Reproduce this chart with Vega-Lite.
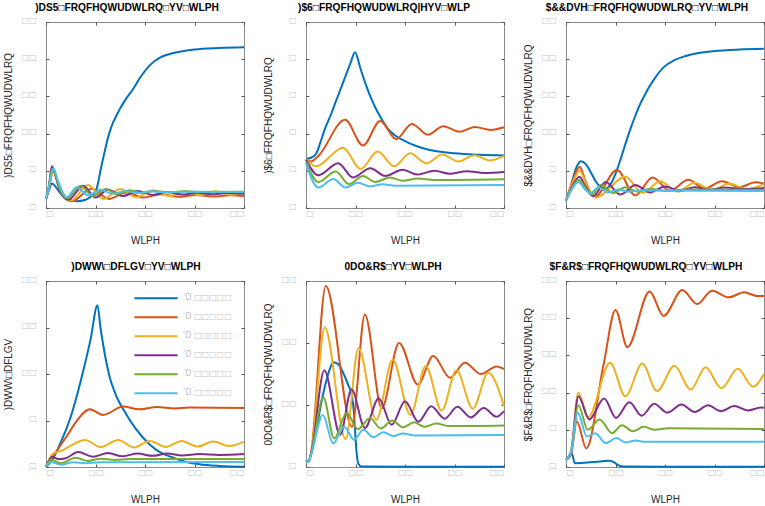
{
  "$schema": "https://vega.github.io/schema/vega-lite/v6.json",
  "padding": {"left": 2, "top": 2, "right": 0, "bottom": 6},
  "background": "white",
  "config": {
    "font": "Liberation Sans",
    "view": {"stroke": "#8a8a8a", "strokeWidth": 1},
    "axis": {"domain": false, "grid": false, "ticks": true, "tickSize": -3, "tickColor": "#555555", "labelColor": "#c4c4c4", "labelFont": "DejaVu Sans", "labelFontSize": 8, "labelPadding": 4, "titleFont": "Liberation Sans", "titleFontSize": 10, "titleFontWeight": "normal", "titleColor": "#262626"},
    "axisX": {"titleY": 27},
    "axisY": {"titleX": -33, "labelPadding": 13, "labelOffset": -2},
    "title": {"font": "Liberation Sans", "fontSize": 10.2, "fontWeight": "bold", "color": "#000000", "anchor": "middle", "frame": "group", "baseline": "alphabetic", "offset": 3},
    "line": {"strokeWidth": 2, "interpolate": "monotone"}
  },
  "data": {"values": [
    {"p":1,"s":1,"t":0,"v":1.2},{"p":1,"s":1,"t":0.5,"v":2.2},{"p":1,"s":1,"t":1.2,"v":3.3},{"p":1,"s":1,"t":2,"v":2.8},{"p":1,"s":1,"t":3,"v":1.9},{"p":1,"s":1,"t":4.5,"v":1.2},{"p":1,"s":1,"t":6.2,"v":0.9},{"p":1,"s":1,"t":8,"v":1.1},{"p":1,"s":1,"t":9,"v":1.5},{"p":1,"s":1,"t":10,"v":2.2},{"p":1,"s":1,"t":10.5,"v":3.3},{"p":1,"s":1,"t":11,"v":5},{"p":1,"s":1,"t":12,"v":8},{"p":1,"s":1,"t":12.5,"v":9.4},{"p":1,"s":1,"t":13,"v":10.5},{"p":1,"s":1,"t":13.5,"v":11.4},{"p":1,"s":1,"t":14,"v":12.1},{"p":1,"s":1,"t":15,"v":13.4},{"p":1,"s":1,"t":16,"v":14.5},{"p":1,"s":1,"t":17.6,"v":16},{"p":1,"s":1,"t":19,"v":17.5},{"p":1,"s":1,"t":21,"v":19.2},{"p":1,"s":1,"t":23,"v":20.2},{"p":1,"s":1,"t":25,"v":20.7},{"p":1,"s":1,"t":27,"v":21},{"p":1,"s":1,"t":30,"v":21.3},{"p":1,"s":1,"t":35,"v":21.5},{"p":1,"s":1,"t":40,"v":21.6},
    {"p":1,"s":2,"t":0,"v":1.2},{"p":1,"s":2,"t":0.5,"v":2.5},{"p":1,"s":2,"t":1.5,"v":4.9},{"p":1,"s":2,"t":2.5,"v":3},{"p":1,"s":2,"t":3.5,"v":1.6},{"p":1,"s":2,"t":5.2,"v":0.9},{"p":1,"s":2,"t":9.2,"v":2.6},{"p":1,"s":2,"t":12.7,"v":1.2},{"p":1,"s":2,"t":16.2,"v":2.1},{"p":1,"s":2,"t":19.7,"v":1.4},{"p":1,"s":2,"t":23.2,"v":1.85},{"p":1,"s":2,"t":26.7,"v":1.5},{"p":1,"s":2,"t":30.2,"v":1.75},{"p":1,"s":2,"t":33.7,"v":1.55},{"p":1,"s":2,"t":37.2,"v":1.7},{"p":1,"s":2,"t":40,"v":1.6},
    {"p":1,"s":3,"t":0,"v":1.2},{"p":1,"s":3,"t":0.5,"v":2.4},{"p":1,"s":3,"t":1.5,"v":5},{"p":1,"s":3,"t":2.5,"v":3.2},{"p":1,"s":3,"t":3.5,"v":1.7},{"p":1,"s":3,"t":5,"v":1},{"p":1,"s":3,"t":8.5,"v":3.1},{"p":1,"s":3,"t":11.6,"v":1.2},{"p":1,"s":3,"t":15,"v":2.55},{"p":1,"s":3,"t":18.3,"v":1.45},{"p":1,"s":3,"t":21.6,"v":2.4},{"p":1,"s":3,"t":25,"v":1.6},{"p":1,"s":3,"t":28,"v":2.3},{"p":1,"s":3,"t":31.2,"v":1.7},{"p":1,"s":3,"t":34.3,"v":2.25},{"p":1,"s":3,"t":37.5,"v":1.75},{"p":1,"s":3,"t":40,"v":2.15},
    {"p":1,"s":4,"t":0,"v":1.2},{"p":1,"s":4,"t":0.5,"v":2.6},{"p":1,"s":4,"t":1.2,"v":5.6},{"p":1,"s":4,"t":2,"v":4.2},{"p":1,"s":4,"t":3,"v":2},{"p":1,"s":4,"t":4.5,"v":1.1},{"p":1,"s":4,"t":7.5,"v":3},{"p":1,"s":4,"t":10,"v":1.4},{"p":1,"s":4,"t":12.5,"v":2.5},{"p":1,"s":4,"t":15.5,"v":1.6},{"p":1,"s":4,"t":18.5,"v":2.3},{"p":1,"s":4,"t":21.5,"v":1.75},{"p":1,"s":4,"t":24.5,"v":2.15},{"p":1,"s":4,"t":27.5,"v":1.8},{"p":1,"s":4,"t":30.5,"v":2.05},{"p":1,"s":4,"t":33.5,"v":1.85},{"p":1,"s":4,"t":36.5,"v":2},{"p":1,"s":4,"t":40,"v":1.9},
    {"p":1,"s":5,"t":0,"v":1.2},{"p":1,"s":5,"t":0.5,"v":2.6},{"p":1,"s":5,"t":1.3,"v":5.3},{"p":1,"s":5,"t":2,"v":4.3},{"p":1,"s":5,"t":3,"v":2.2},{"p":1,"s":5,"t":4.3,"v":1.3},{"p":1,"s":5,"t":7,"v":3},{"p":1,"s":5,"t":9.5,"v":1.6},{"p":1,"s":5,"t":12,"v":2.55},{"p":1,"s":5,"t":14.5,"v":1.85},{"p":1,"s":5,"t":17,"v":2.4},{"p":1,"s":5,"t":19.5,"v":2},{"p":1,"s":5,"t":22,"v":2.3},{"p":1,"s":5,"t":25,"v":2.1},{"p":1,"s":5,"t":28,"v":2.25},{"p":1,"s":5,"t":32,"v":2.15},{"p":1,"s":5,"t":40,"v":2.2},
    {"p":1,"s":6,"t":0,"v":1.2},{"p":1,"s":6,"t":0.5,"v":2.6},{"p":1,"s":6,"t":1.5,"v":5.3},{"p":1,"s":6,"t":2.5,"v":3.5},{"p":1,"s":6,"t":4.2,"v":1.45},{"p":1,"s":6,"t":6.2,"v":2.8},{"p":1,"s":6,"t":8.5,"v":1.7},{"p":1,"s":6,"t":11,"v":2.45},{"p":1,"s":6,"t":13.5,"v":1.9},{"p":1,"s":6,"t":16,"v":2.3},{"p":1,"s":6,"t":18.5,"v":2},{"p":1,"s":6,"t":21,"v":2.25},{"p":1,"s":6,"t":24,"v":2.1},{"p":1,"s":6,"t":28,"v":2.2},{"p":1,"s":6,"t":40,"v":2.15},

    {"p":2,"s":1,"t":0,"v":1.32},{"p":2,"s":1,"t":1,"v":1.35},{"p":2,"s":1,"t":2,"v":1.45},{"p":2,"s":1,"t":3,"v":1.8},{"p":2,"s":1,"t":3.8,"v":2.12},{"p":2,"s":1,"t":5,"v":2.5},{"p":2,"s":1,"t":6,"v":2.85},{"p":2,"s":1,"t":7,"v":3.2},{"p":2,"s":1,"t":8,"v":3.55},{"p":2,"s":1,"t":9,"v":3.9},{"p":2,"s":1,"t":9.9,"v":4.19},{"p":2,"s":1,"t":11,"v":3.75},{"p":2,"s":1,"t":12,"v":3.35},{"p":2,"s":1,"t":13,"v":3},{"p":2,"s":1,"t":14,"v":2.7},{"p":2,"s":1,"t":15,"v":2.45},{"p":2,"s":1,"t":16.6,"v":2.12},{"p":2,"s":1,"t":18,"v":1.95},{"p":2,"s":1,"t":20,"v":1.8},{"p":2,"s":1,"t":22,"v":1.68},{"p":2,"s":1,"t":25,"v":1.56},{"p":2,"s":1,"t":30,"v":1.47},{"p":2,"s":1,"t":35,"v":1.43},{"p":2,"s":1,"t":40,"v":1.41},
    {"p":2,"s":2,"t":0,"v":1.3},{"p":2,"s":2,"t":1,"v":1.25},{"p":2,"s":2,"t":2.5,"v":1.4},{"p":2,"s":2,"t":7.9,"v":2.37},{"p":2,"s":2,"t":11.5,"v":1.68},{"p":2,"s":2,"t":15,"v":2.34},{"p":2,"s":2,"t":18.2,"v":1.85},{"p":2,"s":2,"t":21.4,"v":2.26},{"p":2,"s":2,"t":24.6,"v":1.97},{"p":2,"s":2,"t":27.7,"v":2.2},{"p":2,"s":2,"t":31,"v":2.05},{"p":2,"s":2,"t":34.1,"v":2.18},{"p":2,"s":2,"t":37.3,"v":2.1},{"p":2,"s":2,"t":40,"v":2.17},
    {"p":2,"s":3,"t":0,"v":1.32},{"p":2,"s":3,"t":2,"v":1.12},{"p":2,"s":3,"t":7.5,"v":1.62},{"p":2,"s":3,"t":11,"v":1.05},{"p":2,"s":3,"t":14.5,"v":1.52},{"p":2,"s":3,"t":17.8,"v":1.12},{"p":2,"s":3,"t":21,"v":1.47},{"p":2,"s":3,"t":24.3,"v":1.2},{"p":2,"s":3,"t":27.5,"v":1.44},{"p":2,"s":3,"t":30.8,"v":1.25},{"p":2,"s":3,"t":34,"v":1.42},{"p":2,"s":3,"t":37.2,"v":1.28},{"p":2,"s":3,"t":40,"v":1.4},
    {"p":2,"s":4,"t":0,"v":1.3},{"p":2,"s":4,"t":2.5,"v":0.88},{"p":2,"s":4,"t":6.5,"v":1.2},{"p":2,"s":4,"t":9.5,"v":0.82},{"p":2,"s":4,"t":13,"v":1.07},{"p":2,"s":4,"t":16,"v":0.86},{"p":2,"s":4,"t":19.5,"v":1.03},{"p":2,"s":4,"t":22.5,"v":0.9},{"p":2,"s":4,"t":26,"v":1},{"p":2,"s":4,"t":29,"v":0.92},{"p":2,"s":4,"t":32.5,"v":0.99},{"p":2,"s":4,"t":36,"v":0.94},{"p":2,"s":4,"t":40,"v":0.97},
    {"p":2,"s":5,"t":0,"v":1.25},{"p":2,"s":5,"t":2.5,"v":0.7},{"p":2,"s":5,"t":6,"v":0.98},{"p":2,"s":5,"t":8.7,"v":0.64},{"p":2,"s":5,"t":11.5,"v":0.86},{"p":2,"s":5,"t":14,"v":0.7},{"p":2,"s":5,"t":17,"v":0.82},{"p":2,"s":5,"t":19.5,"v":0.73},{"p":2,"s":5,"t":22.5,"v":0.79},{"p":2,"s":5,"t":26,"v":0.75},{"p":2,"s":5,"t":40,"v":0.77},
    {"p":2,"s":6,"t":0,"v":1.2},{"p":2,"s":6,"t":2.5,"v":0.55},{"p":2,"s":6,"t":5.5,"v":0.78},{"p":2,"s":6,"t":8,"v":0.55},{"p":2,"s":6,"t":10.5,"v":0.68},{"p":2,"s":6,"t":13,"v":0.58},{"p":2,"s":6,"t":15.5,"v":0.64},{"p":2,"s":6,"t":18,"v":0.6},{"p":2,"s":6,"t":40,"v":0.62},

    {"p":3,"s":1,"t":0,"v":1},{"p":3,"s":1,"t":1,"v":3},{"p":3,"s":1,"t":2,"v":5.3},{"p":3,"s":1,"t":3,"v":6.3},{"p":3,"s":1,"t":4,"v":5.9},{"p":3,"s":1,"t":5,"v":4.8},{"p":3,"s":1,"t":6,"v":3.6},{"p":3,"s":1,"t":7,"v":2.8},{"p":3,"s":1,"t":8,"v":2.6},{"p":3,"s":1,"t":9,"v":3.2},{"p":3,"s":1,"t":10,"v":4.6},{"p":3,"s":1,"t":11,"v":6.5},{"p":3,"s":1,"t":12,"v":8.6},{"p":3,"s":1,"t":13,"v":10.6},{"p":3,"s":1,"t":14,"v":12.4},{"p":3,"s":1,"t":15,"v":14},{"p":3,"s":1,"t":16,"v":15.3},{"p":3,"s":1,"t":17,"v":16.5},{"p":3,"s":1,"t":18,"v":17.5},{"p":3,"s":1,"t":19.7,"v":18.9},{"p":3,"s":1,"t":22,"v":19.9},{"p":3,"s":1,"t":24,"v":20.4},{"p":3,"s":1,"t":26.5,"v":20.8},{"p":3,"s":1,"t":30,"v":21.1},{"p":3,"s":1,"t":35,"v":21.3},{"p":3,"s":1,"t":40,"v":21.4},
    {"p":3,"s":2,"t":0,"v":1},{"p":3,"s":2,"t":1,"v":3},{"p":3,"s":2,"t":2.8,"v":5.5},{"p":3,"s":2,"t":4,"v":3.5},{"p":3,"s":2,"t":5.8,"v":1.5},{"p":3,"s":2,"t":10.3,"v":5.1},{"p":3,"s":2,"t":14,"v":1.7},{"p":3,"s":2,"t":17.5,"v":4.1},{"p":3,"s":2,"t":21,"v":2.3},{"p":3,"s":2,"t":24.7,"v":3.8},{"p":3,"s":2,"t":28,"v":2.6},{"p":3,"s":2,"t":31.5,"v":3.6},{"p":3,"s":2,"t":35,"v":2.8},{"p":3,"s":2,"t":38.3,"v":3.45},{"p":3,"s":2,"t":40,"v":3.3},
    {"p":3,"s":3,"t":0,"v":1},{"p":3,"s":3,"t":1,"v":2.8},{"p":3,"s":3,"t":2.8,"v":5},{"p":3,"s":3,"t":4.2,"v":3},{"p":3,"s":3,"t":6,"v":1.4},{"p":3,"s":3,"t":12,"v":4.2},{"p":3,"s":3,"t":15.5,"v":2},{"p":3,"s":3,"t":19,"v":3.6},{"p":3,"s":3,"t":22.5,"v":2.2},{"p":3,"s":3,"t":26,"v":3.4},{"p":3,"s":3,"t":29.5,"v":2.4},{"p":3,"s":3,"t":33,"v":3.3},{"p":3,"s":3,"t":36.5,"v":2.5},{"p":3,"s":3,"t":40,"v":3.2},
    {"p":3,"s":4,"t":0,"v":1},{"p":3,"s":4,"t":1,"v":2.5},{"p":3,"s":4,"t":2.7,"v":4.2},{"p":3,"s":4,"t":4,"v":2.8},{"p":3,"s":4,"t":5.5,"v":1.6},{"p":3,"s":4,"t":8,"v":3.5},{"p":3,"s":4,"t":11,"v":1.8},{"p":3,"s":4,"t":14,"v":3.1},{"p":3,"s":4,"t":17,"v":2.1},{"p":3,"s":4,"t":20,"v":2.9},{"p":3,"s":4,"t":23,"v":2.3},{"p":3,"s":4,"t":26,"v":2.8},{"p":3,"s":4,"t":29,"v":2.45},{"p":3,"s":4,"t":32,"v":2.75},{"p":3,"s":4,"t":36,"v":2.55},{"p":3,"s":4,"t":40,"v":2.7},
    {"p":3,"s":5,"t":0,"v":1},{"p":3,"s":5,"t":1,"v":2.4},{"p":3,"s":5,"t":2.6,"v":3.8},{"p":3,"s":5,"t":4,"v":2.6},{"p":3,"s":5,"t":5.2,"v":1.8},{"p":3,"s":5,"t":7,"v":3.1},{"p":3,"s":5,"t":9.5,"v":2},{"p":3,"s":5,"t":12,"v":2.8},{"p":3,"s":5,"t":14.5,"v":2.2},{"p":3,"s":5,"t":17,"v":2.6},{"p":3,"s":5,"t":20,"v":2.3},{"p":3,"s":5,"t":24,"v":2.5},{"p":3,"s":5,"t":40,"v":2.45},
    {"p":3,"s":6,"t":0,"v":1},{"p":3,"s":6,"t":1,"v":2.3},{"p":3,"s":6,"t":2.5,"v":3.5},{"p":3,"s":6,"t":4,"v":2.4},{"p":3,"s":6,"t":5,"v":2},{"p":3,"s":6,"t":6.5,"v":2.8},{"p":3,"s":6,"t":8.5,"v":2.1},{"p":3,"s":6,"t":10.5,"v":2.5},{"p":3,"s":6,"t":12.5,"v":2.2},{"p":3,"s":6,"t":15,"v":2.35},{"p":3,"s":6,"t":40,"v":2.3},

    {"p":4,"s":1,"t":0,"v":0},{"p":4,"s":1,"t":1,"v":0.6},{"p":4,"s":1,"t":2,"v":1.5},{"p":4,"s":1,"t":3,"v":2.7},{"p":4,"s":1,"t":4.2,"v":4.2},{"p":4,"s":1,"t":5,"v":5.4},{"p":4,"s":1,"t":6,"v":7.2},{"p":4,"s":1,"t":7.5,"v":10.3},{"p":4,"s":1,"t":9,"v":13.7},{"p":4,"s":1,"t":10.4,"v":17.4},{"p":4,"s":1,"t":11,"v":15},{"p":4,"s":1,"t":12,"v":11.8},{"p":4,"s":1,"t":12.9,"v":9.6},{"p":4,"s":1,"t":14,"v":7.9},{"p":4,"s":1,"t":16.3,"v":5.6},{"p":4,"s":1,"t":18,"v":4.2},{"p":4,"s":1,"t":21,"v":2.4},{"p":4,"s":1,"t":23,"v":1.6},{"p":4,"s":1,"t":25.7,"v":1},{"p":4,"s":1,"t":28,"v":0.6},{"p":4,"s":1,"t":31,"v":0.3},{"p":4,"s":1,"t":35,"v":0.12},{"p":4,"s":1,"t":40,"v":0.04},
    {"p":4,"s":2,"t":0,"v":0},{"p":4,"s":2,"t":1,"v":0.8},{"p":4,"s":2,"t":2,"v":1.6},{"p":4,"s":2,"t":3,"v":2.4},{"p":4,"s":2,"t":4.2,"v":3.3},{"p":4,"s":2,"t":6,"v":4.8},{"p":4,"s":2,"t":8.9,"v":6.2},{"p":4,"s":2,"t":11.5,"v":5.6},{"p":4,"s":2,"t":15.6,"v":6.5},{"p":4,"s":2,"t":18.8,"v":6.2},{"p":4,"s":2,"t":22.4,"v":6.45},{"p":4,"s":2,"t":26,"v":6.3},{"p":4,"s":2,"t":29,"v":6.4},{"p":4,"s":2,"t":40,"v":6.35},
    {"p":4,"s":3,"t":0,"v":0},{"p":4,"s":3,"t":1.5,"v":1.5},{"p":4,"s":3,"t":3,"v":1.7},{"p":4,"s":3,"t":5,"v":2.3},{"p":4,"s":3,"t":7.9,"v":2.9},{"p":4,"s":3,"t":11,"v":2.15},{"p":4,"s":3,"t":14.6,"v":2.9},{"p":4,"s":3,"t":17.8,"v":2.1},{"p":4,"s":3,"t":21,"v":2.8},{"p":4,"s":3,"t":24.2,"v":2.15},{"p":4,"s":3,"t":27.4,"v":2.8},{"p":4,"s":3,"t":30.6,"v":2.2},{"p":4,"s":3,"t":33.8,"v":2.75},{"p":4,"s":3,"t":37,"v":2.25},{"p":4,"s":3,"t":40,"v":2.7},
    {"p":4,"s":4,"t":0,"v":0},{"p":4,"s":4,"t":1.2,"v":1.1},{"p":4,"s":4,"t":2.5,"v":0.85},{"p":4,"s":4,"t":4,"v":0.95},{"p":4,"s":4,"t":6.5,"v":1.6},{"p":4,"s":4,"t":9.5,"v":1.1},{"p":4,"s":4,"t":12.5,"v":1.5},{"p":4,"s":4,"t":15.5,"v":1.15},{"p":4,"s":4,"t":18.5,"v":1.45},{"p":4,"s":4,"t":21.5,"v":1.2},{"p":4,"s":4,"t":24.5,"v":1.45},{"p":4,"s":4,"t":27.5,"v":1.25},{"p":4,"s":4,"t":31,"v":1.4},{"p":4,"s":4,"t":35,"v":1.3},{"p":4,"s":4,"t":40,"v":1.4},
    {"p":4,"s":5,"t":0,"v":0},{"p":4,"s":5,"t":1,"v":0.8},{"p":4,"s":5,"t":3,"v":0.4},{"p":4,"s":5,"t":6,"v":1},{"p":4,"s":5,"t":8.5,"v":0.65},{"p":4,"s":5,"t":11,"v":0.9},{"p":4,"s":5,"t":14,"v":0.75},{"p":4,"s":5,"t":17,"v":0.85},{"p":4,"s":5,"t":40,"v":0.85},
    {"p":4,"s":6,"t":0,"v":0},{"p":4,"s":6,"t":1,"v":0.55},{"p":4,"s":6,"t":3,"v":0.25},{"p":4,"s":6,"t":5.5,"v":0.5},{"p":4,"s":6,"t":8,"v":0.4},{"p":4,"s":6,"t":11,"v":0.5},{"p":4,"s":6,"t":40,"v":0.55},

    {"p":5,"s":1,"t":0,"v":1.1},{"p":5,"s":1,"t":0.5,"v":0.9},{"p":5,"s":1,"t":1,"v":2},{"p":5,"s":1,"t":2,"v":5.5},{"p":5,"s":1,"t":3,"v":10},{"p":5,"s":1,"t":4,"v":13.6},{"p":5,"s":1,"t":5,"v":16.2},{"p":5,"s":1,"t":5.5,"v":16.9},{"p":5,"s":1,"t":6.5,"v":16.6},{"p":5,"s":1,"t":7.5,"v":15.2},{"p":5,"s":1,"t":8.5,"v":13.3},{"p":5,"s":1,"t":9.2,"v":11.7},{"p":5,"s":1,"t":9.6,"v":9.5},{"p":5,"s":1,"t":9.9,"v":6},{"p":5,"s":1,"t":10.2,"v":2.5},{"p":5,"s":1,"t":10.6,"v":0.5},{"p":5,"s":1,"t":11.2,"v":0.1},{"p":5,"s":1,"t":20,"v":0.05},{"p":5,"s":1,"t":40,"v":0.05},
    {"p":5,"s":2,"t":0,"v":1.1},{"p":5,"s":2,"t":0.5,"v":0.9},{"p":5,"s":2,"t":1,"v":2.2},{"p":5,"s":2,"t":4,"v":29.2},{"p":5,"s":2,"t":9.3,"v":6.5},{"p":5,"s":2,"t":11.9,"v":24.6},{"p":5,"s":2,"t":15.3,"v":9.5},{"p":5,"s":2,"t":18.8,"v":20},{"p":5,"s":2,"t":22.6,"v":13.3},{"p":5,"s":2,"t":25.7,"v":17.9},{"p":5,"s":2,"t":29.1,"v":14.4},{"p":5,"s":2,"t":32.1,"v":16.8},{"p":5,"s":2,"t":35.3,"v":15},{"p":5,"s":2,"t":38.5,"v":16.2},{"p":5,"s":2,"t":40,"v":15.8},
    {"p":5,"s":3,"t":0,"v":1.1},{"p":5,"s":3,"t":0.5,"v":0.9},{"p":5,"s":3,"t":1,"v":2.1},{"p":5,"s":3,"t":3.8,"v":22.5},{"p":5,"s":3,"t":8,"v":4.5},{"p":5,"s":3,"t":10.6,"v":19.2},{"p":5,"s":3,"t":14.2,"v":7.6},{"p":5,"s":3,"t":17.5,"v":17.3},{"p":5,"s":3,"t":21.1,"v":8.4},{"p":5,"s":3,"t":24.2,"v":16.3},{"p":5,"s":3,"t":27.4,"v":9.1},{"p":5,"s":3,"t":30.4,"v":15.6},{"p":5,"s":3,"t":33.7,"v":9.4},{"p":5,"s":3,"t":36.8,"v":15.2},{"p":5,"s":3,"t":40,"v":9.8},
    {"p":5,"s":4,"t":0,"v":1.1},{"p":5,"s":4,"t":0.5,"v":0.9},{"p":5,"s":4,"t":1,"v":2},{"p":5,"s":4,"t":3.7,"v":15.6},{"p":5,"s":4,"t":6.9,"v":5.2},{"p":5,"s":4,"t":9.2,"v":12.5},{"p":5,"s":4,"t":11.9,"v":6.3},{"p":5,"s":4,"t":14.7,"v":11.1},{"p":5,"s":4,"t":17.3,"v":6.8},{"p":5,"s":4,"t":20,"v":10.6},{"p":5,"s":4,"t":22.7,"v":7.3},{"p":5,"s":4,"t":25.3,"v":9.8},{"p":5,"s":4,"t":28,"v":7.8},{"p":5,"s":4,"t":30.6,"v":9.7},{"p":5,"s":4,"t":33.3,"v":8},{"p":5,"s":4,"t":35.9,"v":9.5},{"p":5,"s":4,"t":38.5,"v":8.1},{"p":5,"s":4,"t":40,"v":9},
    {"p":5,"s":5,"t":0,"v":1.1},{"p":5,"s":5,"t":0.5,"v":0.9},{"p":5,"s":5,"t":1,"v":2},{"p":5,"s":5,"t":3.5,"v":11.2},{"p":5,"s":5,"t":5.7,"v":4.6},{"p":5,"s":5,"t":8.2,"v":8.7},{"p":5,"s":5,"t":10.5,"v":6.1},{"p":5,"s":5,"t":12.9,"v":7.9},{"p":5,"s":5,"t":15.1,"v":6.2},{"p":5,"s":5,"t":17.4,"v":7.5},{"p":5,"s":5,"t":19.6,"v":6.4},{"p":5,"s":5,"t":21.8,"v":7.2},{"p":5,"s":5,"t":24,"v":6.5},{"p":5,"s":5,"t":26.3,"v":7},{"p":5,"s":5,"t":29,"v":6.6},{"p":5,"s":5,"t":40,"v":6.7},
    {"p":5,"s":6,"t":0,"v":1.1},{"p":5,"s":6,"t":0.5,"v":0.9},{"p":5,"s":6,"t":1,"v":1.9},{"p":5,"s":6,"t":3.4,"v":8.4},{"p":5,"s":6,"t":5.5,"v":3.8},{"p":5,"s":6,"t":7.7,"v":6.5},{"p":5,"s":6,"t":9.7,"v":4.4},{"p":5,"s":6,"t":11.6,"v":6},{"p":5,"s":6,"t":13.6,"v":4.8},{"p":5,"s":6,"t":15.6,"v":5.6},{"p":5,"s":6,"t":17.6,"v":5},{"p":5,"s":6,"t":19.6,"v":5.4},{"p":5,"s":6,"t":22,"v":5.1},{"p":5,"s":6,"t":40,"v":5.15},

    {"p":6,"s":1,"t":0,"v":0.95},{"p":6,"s":1,"t":0.7,"v":1.5},{"p":6,"s":1,"t":1.15,"v":1.85},{"p":6,"s":1,"t":1.8,"v":0.5},{"p":6,"s":1,"t":3,"v":0.55},{"p":6,"s":1,"t":5,"v":0.65},{"p":6,"s":1,"t":7,"v":0.75},{"p":6,"s":1,"t":8.9,"v":0.85},{"p":6,"s":1,"t":9.8,"v":0.6},{"p":6,"s":1,"t":10.5,"v":0.25},{"p":6,"s":1,"t":11.5,"v":0.08},{"p":6,"s":1,"t":20,"v":0.03},{"p":6,"s":1,"t":40,"v":0.03},
    {"p":6,"s":2,"t":0,"v":0.95},{"p":6,"s":2,"t":1,"v":1.6},{"p":6,"s":2,"t":2.2,"v":6.1},{"p":6,"s":2,"t":4.1,"v":2.5},{"p":6,"s":2,"t":7.6,"v":13.8},{"p":6,"s":2,"t":10,"v":21.1},{"p":6,"s":2,"t":12.4,"v":16.1},{"p":6,"s":2,"t":16.9,"v":23.6},{"p":6,"s":2,"t":19.7,"v":20.3},{"p":6,"s":2,"t":23.5,"v":23.8},{"p":6,"s":2,"t":26.5,"v":21.9},{"p":6,"s":2,"t":29.5,"v":23.7},{"p":6,"s":2,"t":32.9,"v":22.8},{"p":6,"s":2,"t":36,"v":23.5},{"p":6,"s":2,"t":38.5,"v":23},{"p":6,"s":2,"t":40,"v":23},
    {"p":6,"s":3,"t":0,"v":0.95},{"p":6,"s":3,"t":1,"v":2},{"p":6,"s":3,"t":2.5,"v":10},{"p":6,"s":3,"t":4.5,"v":6.7},{"p":6,"s":3,"t":8.9,"v":14},{"p":6,"s":3,"t":12,"v":9.5},{"p":6,"s":3,"t":15.4,"v":13.9},{"p":6,"s":3,"t":18.4,"v":10.2},{"p":6,"s":3,"t":21.9,"v":13.6},{"p":6,"s":3,"t":25.2,"v":10.4},{"p":6,"s":3,"t":28.2,"v":13.4},{"p":6,"s":3,"t":31.4,"v":10.6},{"p":6,"s":3,"t":34.7,"v":13.2},{"p":6,"s":3,"t":37.8,"v":10.8},{"p":6,"s":3,"t":40,"v":12.5},
    {"p":6,"s":4,"t":0,"v":0.95},{"p":6,"s":4,"t":1,"v":2},{"p":6,"s":4,"t":2.5,"v":9.5},{"p":6,"s":4,"t":4.7,"v":6.4},{"p":6,"s":4,"t":7.7,"v":9.2},{"p":6,"s":4,"t":10.1,"v":6.6},{"p":6,"s":4,"t":12.8,"v":8.7},{"p":6,"s":4,"t":15.3,"v":6.9},{"p":6,"s":4,"t":17.8,"v":8.5},{"p":6,"s":4,"t":20.5,"v":7.3},{"p":6,"s":4,"t":23.3,"v":8.4},{"p":6,"s":4,"t":26,"v":7.4},{"p":6,"s":4,"t":28.7,"v":8.3},{"p":6,"s":4,"t":31.3,"v":7.5},{"p":6,"s":4,"t":34,"v":8.2},{"p":6,"s":4,"t":36.7,"v":7.6},{"p":6,"s":4,"t":39.4,"v":8},{"p":6,"s":4,"t":40,"v":7.95},
    {"p":6,"s":5,"t":0,"v":0.95},{"p":6,"s":5,"t":1,"v":2},{"p":6,"s":5,"t":2.5,"v":8.3},{"p":6,"s":5,"t":4.4,"v":5},{"p":6,"s":5,"t":6.8,"v":6.4},{"p":6,"s":5,"t":9.3,"v":4.55},{"p":6,"s":5,"t":11.3,"v":5.6},{"p":6,"s":5,"t":13.5,"v":4.8},{"p":6,"s":5,"t":15.7,"v":5.4},{"p":6,"s":5,"t":18,"v":5},{"p":6,"s":5,"t":20.5,"v":5.2},{"p":6,"s":5,"t":40,"v":5.1},
    {"p":6,"s":6,"t":0,"v":0.95},{"p":6,"s":6,"t":1,"v":2},{"p":6,"s":6,"t":2.4,"v":7.3},{"p":6,"s":6,"t":4.2,"v":4.1},{"p":6,"s":6,"t":5.9,"v":4.55},{"p":6,"s":6,"t":8,"v":3.2},{"p":6,"s":6,"t":10.2,"v":3.9},{"p":6,"s":6,"t":12,"v":3.3},{"p":6,"s":6,"t":14,"v":3.55},{"p":6,"s":6,"t":16,"v":3.4},{"p":6,"s":6,"t":40,"v":3.4}
  ]},
  "columns": 3,
  "spacing": {"row": 73, "column": 62},
  "bounds": "flush",
  "resolve": {"scale": {"x": "independent", "y": "independent", "color": "independent"}, "legend": {"color": "independent"}},
  "concat": [
    {
      "width": 198, "height": 186,
      "title": {"text": ")DS5□FRQFHQWUDWLRQ□YV□WLPH", "dx": -18},
      "transform": [{"filter": "datum.p == 1"}],
      "resolve": {"axis": {"x": "independent", "y": "independent"}},
      "layer": [
        {"mark": {"type": "line"},
         "encoding": {
          "x": {"field": "t", "type": "quantitative", "scale": {"domain": [0, 40]}, "axis": {"title": "WLPH", "values": [0, 10, 20, 30, 40], "labelExpr": "datum.value < 10 ? '□' : '□□'"}},
          "y": {"field": "v", "type": "quantitative", "scale": {"domain": [0, 25]}, "axis": {"title": ")DS5□FRQFHQWUDWLRQ", "values": [0, 5, 10, 15, 20, 25], "labelExpr": "datum.value < 10 ? '□' : '□□'"}},
          "color": {"field": "s", "type": "nominal", "scale": {"domain": [1, 2, 3, 4, 5, 6], "range": ["#0072BD", "#D95319", "#EDB120", "#7E2F8E", "#77AC30", "#4DBEEE"]}, "legend": null}
         }},
        {"mark": {"type": "point", "opacity": 0},
         "encoding": {
          "x": {"field": "t", "type": "quantitative", "scale": {"domain": [0, 40]}, "axis": {"orient": "top", "labels": false, "title": null, "values": [0, 10, 20, 30, 40]}},
          "y": {"field": "v", "type": "quantitative", "scale": {"domain": [0, 25]}, "axis": {"orient": "right", "labels": false, "title": null, "values": [0, 5, 10, 15, 20, 25]}}
         }}
      ]
    },
    {
      "width": 198, "height": 186,
      "title": {"text": ")$6□FRQFHQWUDWLRQ|HYV□WLP", "dx": -21},
      "transform": [{"filter": "datum.p == 2"}],
      "resolve": {"axis": {"x": "independent", "y": "independent"}},
      "layer": [
        {"mark": {"type": "line"},
         "encoding": {
          "x": {"field": "t", "type": "quantitative", "scale": {"domain": [0, 40]}, "axis": {"title": "WLPH", "values": [0, 10, 20, 30, 40], "labelExpr": "datum.value < 10 ? '□' : '□□'"}},
          "y": {"field": "v", "type": "quantitative", "scale": {"domain": [0, 5]}, "axis": {"title": ")$6□FRQFHQWUDWLRQ", "values": [0, 1, 2, 3, 4, 5], "labelExpr": "'□'"}},
          "color": {"field": "s", "type": "nominal", "scale": {"domain": [1, 2, 3, 4, 5, 6], "range": ["#0072BD", "#D95319", "#EDB120", "#7E2F8E", "#77AC30", "#4DBEEE"]}, "legend": null}
         }},
        {"mark": {"type": "point", "opacity": 0},
         "encoding": {
          "x": {"field": "t", "type": "quantitative", "scale": {"domain": [0, 40]}, "axis": {"orient": "top", "labels": false, "title": null, "values": [0, 10, 20, 30, 40]}},
          "y": {"field": "v", "type": "quantitative", "scale": {"domain": [0, 5]}, "axis": {"orient": "right", "labels": false, "title": null, "values": [0, 1, 2, 3, 4, 5]}}
         }}
      ]
    },
    {
      "width": 198, "height": 186,
      "title": {"text": "$&&DVH□FRQFHQWUDWLRQ□YV□WLPH", "dx": -18},
      "transform": [{"filter": "datum.p == 3"}],
      "resolve": {"axis": {"x": "independent", "y": "independent"}},
      "layer": [
        {"mark": {"type": "line"},
         "encoding": {
          "x": {"field": "t", "type": "quantitative", "scale": {"domain": [0, 40]}, "axis": {"title": "WLPH", "values": [0, 10, 20, 30, 40], "labelExpr": "datum.value < 10 ? '□' : '□□'"}},
          "y": {"field": "v", "type": "quantitative", "scale": {"domain": [0, 25]}, "axis": {"title": "$&&DVH□FRQFHQWUDWLRQ", "values": [0, 5, 10, 15, 20, 25], "labelExpr": "datum.value < 10 ? '□' : '□□'"}},
          "color": {"field": "s", "type": "nominal", "scale": {"domain": [1, 2, 3, 4, 5, 6], "range": ["#0072BD", "#D95319", "#EDB120", "#7E2F8E", "#77AC30", "#4DBEEE"]}, "legend": null}
         }},
        {"mark": {"type": "point", "opacity": 0},
         "encoding": {
          "x": {"field": "t", "type": "quantitative", "scale": {"domain": [0, 40]}, "axis": {"orient": "top", "labels": false, "title": null, "values": [0, 10, 20, 30, 40]}},
          "y": {"field": "v", "type": "quantitative", "scale": {"domain": [0, 25]}, "axis": {"orient": "right", "labels": false, "title": null, "values": [0, 5, 10, 15, 20, 25]}}
         }}
      ]
    },
    {
      "width": 198, "height": 186,
      "title": {"text": ")DWW\\□DFLGV□YV□WLPH", "dx": -9},
      "transform": [{"filter": "datum.p == 4"}],
      "resolve": {"axis": {"x": "independent", "y": "independent"}},
      "layer": [
        {"mark": {"type": "line"},
         "encoding": {
          "x": {"field": "t", "type": "quantitative", "scale": {"domain": [0, 40]}, "axis": {"title": "WLPH", "values": [0, 10, 20, 30, 40], "labelExpr": "datum.value < 10 ? '□' : '□□'"}},
          "y": {"field": "v", "type": "quantitative", "scale": {"domain": [0, 20]}, "axis": {"title": ")DWW\\□DFLGV", "values": [0, 5, 10, 15, 20], "labelExpr": "datum.value < 10 ? '□' : '□□'"}},
          "color": {"field": "s", "type": "nominal", "scale": {"domain": [1, 2, 3, 4, 5, 6], "range": ["#0072BD", "#D95319", "#EDB120", "#7E2F8E", "#77AC30", "#4DBEEE"]},
            "legend": {"orient": "none", "legendX": 87, "legendY": 8, "title": null, "symbolType": "stroke", "symbolSize": 1870, "symbolStrokeWidth": 2, "clipHeight": 18.35, "rowPadding": 0, "padding": 0, "labelOffset": 4, "labelExpr": "\"'D □□□□□\"", "labelColor": "#c4c4c4", "labelFont": "DejaVu Sans", "labelFontSize": 8}}
         }},
        {"mark": {"type": "point", "opacity": 0},
         "encoding": {
          "x": {"field": "t", "type": "quantitative", "scale": {"domain": [0, 40]}, "axis": {"orient": "top", "labels": false, "title": null, "values": [0, 10, 20, 30, 40]}},
          "y": {"field": "v", "type": "quantitative", "scale": {"domain": [0, 20]}, "axis": {"orient": "right", "labels": false, "title": null, "values": [0, 5, 10, 15, 20]}}
         }}
      ]
    },
    {
      "width": 198, "height": 186,
      "title": {"text": "0DO&R$□YV□WLPH", "dx": -12},
      "transform": [{"filter": "datum.p == 5"}],
      "resolve": {"axis": {"x": "independent", "y": "independent"}},
      "layer": [
        {"mark": {"type": "line"},
         "encoding": {
          "x": {"field": "t", "type": "quantitative", "scale": {"domain": [0, 40]}, "axis": {"title": "WLPH", "values": [0, 10, 20, 30, 40], "labelExpr": "datum.value < 10 ? '□' : '□□'"}},
          "y": {"field": "v", "type": "quantitative", "scale": {"domain": [0, 30]}, "axis": {"title": "0DO&R$□FRQFHQWUDWLRQ", "values": [0, 10, 20, 30], "labelExpr": "datum.value < 10 ? '□' : '□□'"}},
          "color": {"field": "s", "type": "nominal", "scale": {"domain": [1, 2, 3, 4, 5, 6], "range": ["#0072BD", "#D95319", "#EDB120", "#7E2F8E", "#77AC30", "#4DBEEE"]}, "legend": null}
         }},
        {"mark": {"type": "point", "opacity": 0},
         "encoding": {
          "x": {"field": "t", "type": "quantitative", "scale": {"domain": [0, 40]}, "axis": {"orient": "top", "labels": false, "title": null, "values": [0, 10, 20, 30, 40]}},
          "y": {"field": "v", "type": "quantitative", "scale": {"domain": [0, 30]}, "axis": {"orient": "right", "labels": false, "title": null, "values": [0, 10, 20, 30]}}
         }}
      ]
    },
    {
      "width": 198, "height": 186,
      "title": {"text": "$F&R$□FRQFHQWUDWLRQ□YV□WLPH", "dx": -19},
      "transform": [{"filter": "datum.p == 6"}],
      "resolve": {"axis": {"x": "independent", "y": "independent"}},
      "layer": [
        {"mark": {"type": "line"},
         "encoding": {
          "x": {"field": "t", "type": "quantitative", "scale": {"domain": [0, 40]}, "axis": {"title": "WLPH", "values": [0, 10, 20, 30, 40], "labelExpr": "datum.value < 10 ? '□' : '□□'"}},
          "y": {"field": "v", "type": "quantitative", "scale": {"domain": [0, 25]}, "axis": {"title": "$F&R$□FRQFHQWUDWLRQ", "values": [0, 5, 10, 15, 20, 25], "labelExpr": "datum.value < 10 ? '□' : '□□'"}},
          "color": {"field": "s", "type": "nominal", "scale": {"domain": [1, 2, 3, 4, 5, 6], "range": ["#0072BD", "#D95319", "#EDB120", "#7E2F8E", "#77AC30", "#4DBEEE"]}, "legend": null}
         }},
        {"mark": {"type": "point", "opacity": 0},
         "encoding": {
          "x": {"field": "t", "type": "quantitative", "scale": {"domain": [0, 40]}, "axis": {"orient": "top", "labels": false, "title": null, "values": [0, 10, 20, 30, 40]}},
          "y": {"field": "v", "type": "quantitative", "scale": {"domain": [0, 25]}, "axis": {"orient": "right", "labels": false, "title": null, "values": [0, 5, 10, 15, 20, 25]}}
         }}
      ]
    }
  ]
}
